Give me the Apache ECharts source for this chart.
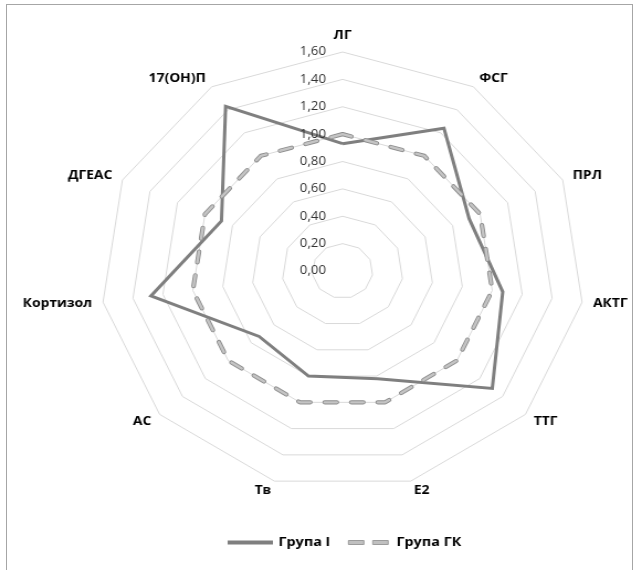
<!DOCTYPE html>
<html>
<head>
<meta charset="utf-8">
<script src="https://cdn.jsdelivr.net/npm/echarts@6/dist/echarts.min.js"></script>
<style>
  html, body { margin: 0; padding: 0; background: #fff; overflow: hidden; }
  #frame { position: absolute; left: 6px; top: 4px; width: 627px; height: 640px; border: 1px solid #a6a6a6; box-sizing: border-box; }
  #chart { position: absolute; left: 0; top: 0; width: 600px; height: 570px; transform: scaleX(1.105); transform-origin: 0 0; }
</style>
</head>
<body>
<div id="frame"></div>
<div id="chart"></div>
<script>
// ---- data (clockwise from top) ----
const categories = ['ЛГ', 'ФСГ', 'ПРЛ', 'АКТГ', 'ТТГ', 'E2', 'Тв', 'АС', 'Кортизол', 'ДГЕАС', '17(ОН)П'];
const groupI  = [0.93, 1.24, 0.92, 1.07, 1.31, 0.82, 0.80, 0.73, 1.28, 0.88, 1.43];
const groupGK = [1.00, 1.00, 1.00, 1.00, 1.00, 1.00, 1.00, 1.00, 1.00, 1.00, 1.00];
const seriesNames = ['Група І', 'Група ГК'];
const axisMin = 0, axisMax = 1.6, axisStep = 0.2;

// ECharts radar runs counter-clockwise; reorder so the picture reads clockwise
const cw = arr => [arr[0]].concat(arr.slice(1).reverse());

const font = '"Open Sans", "Noto Sans", sans-serif';
const center = [310, 271];
const radius = 219;

const chart = echarts.init(document.getElementById('chart'), null, { renderer: 'canvas' });
chart.setOption({
  animation: false,
  textStyle: { fontFamily: font },
  radar: {
    center: center,
    radius: radius,
    startAngle: 90,
    shape: 'polygon',
    splitNumber: 8,
    indicator: cw(categories).map(n => ({ name: n, min: axisMin, max: axisMax })),
    axisName: { color: '#000', fontWeight: 'bold', fontSize: 12.5, fontFamily: font },
    nameGap: 10,
    axisLine: { show: false },
    axisTick: { show: false },
    axisLabel: { show: false },
    splitLine: { lineStyle: { color: '#d9d9d9', width: 1 } },
    splitArea: { show: false }
  },
  polar: { center: center, radius: radius },
  angleAxis: {
    type: 'value', startAngle: 90, min: 0, max: 360,
    show: false
  },
  radiusAxis: {
    type: 'value', min: axisMin, max: axisMax, interval: axisStep,
    axisLine: { show: false }, axisTick: { show: false }, splitLine: { show: false },
    axisLabel: {
      color: '#333', fontSize: 12, fontFamily: font, margin: 15,
      formatter: v => v.toFixed(2).replace('.', ',')
    },
    z: 10
  },
  legend: {
    left: 201, top: 531,
    itemWidth: 41, itemHeight: 4, itemGap: 16,
    textStyle: { color: '#000', fontWeight: 'bold', fontSize: 13, fontFamily: font },
    data: [
      { name: seriesNames[0], icon: 'rect', itemStyle: { color: '#7f7f7f' } },
      { name: seriesNames[1], icon: 'path://M0,0H14V4H0Z M22,0H36V4H22Z', itemStyle: { color: '#c0c0c0', borderColor: '#8c8c8c', borderWidth: 0.8 } }
    ]
  },
  series: [{
    type: 'radar',
    symbol: 'none',
    silent: true,
    data: [
      { name: seriesNames[0], value: cw(groupI),
        lineStyle: { color: '#7f7f7f', width: 3, join: 'miter' }, itemStyle: { color: '#7f7f7f' } },
      { name: seriesNames[1], value: cw(groupGK),
        lineStyle: { color: '#8c8c8c', width: 4.2, type: [11, 13], cap: 'round' }, itemStyle: { color: '#c0c0c0' } },
      { name: seriesNames[1], value: cw(groupGK),
        lineStyle: { color: '#c4c4c4', width: 2.4, type: [11, 13], cap: 'round' }, itemStyle: { color: '#c0c0c0' } }
    ]
  }]
});
</script>
</body>
</html>
